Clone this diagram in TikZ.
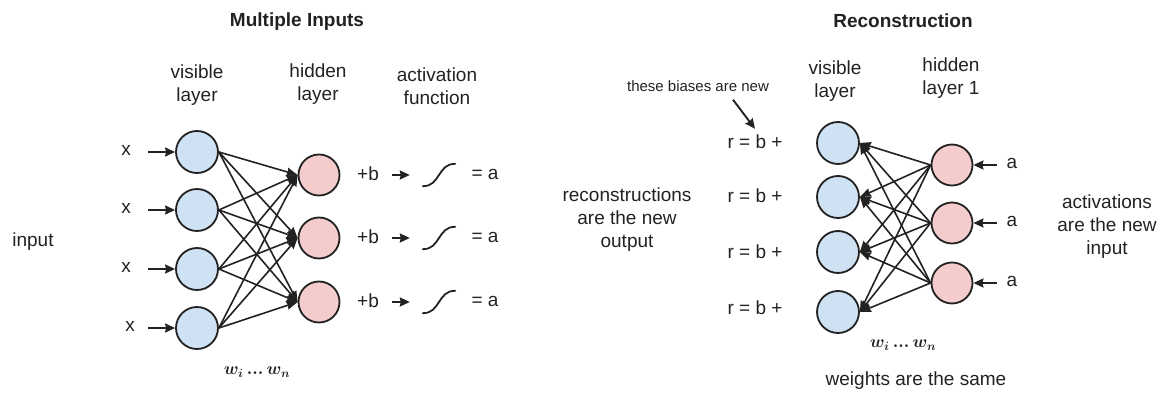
\documentclass[tikz,border=0pt]{standalone}
\usepackage{fontspec}
\setmainfont{Liberation Sans}
\usetikzlibrary{arrows.meta}
\definecolor{visfill}{HTML}{CFE2F3}
\definecolor{hidfill}{HTML}{F4CCCC}
\definecolor{ink}{HTML}{222222}

\begin{document}
\begin{tikzpicture}[x=1pt,y=-1pt,
  lbl/.style={text=ink, font=\fontsize{19}{23}\selectfont, align=center, inner sep=0pt},
  ttl/.style={text=ink, font=\fontsize{19}{23}\selectfont\bfseries, inner sep=0pt},
  note/.style={text=ink, font=\fontsize{15}{18}\selectfont, inner sep=0pt},
  wlab/.style={text=ink, font=\fontsize{17}{20}\selectfont\boldmath, inner sep=0pt},
  vis/.style={circle, draw=ink, line width=1.8pt, fill=visfill, minimum size=42pt, inner sep=0pt},
  hid/.style={circle, draw=ink, line width=1.8pt, fill=hidfill, minimum size=41pt, inner sep=0pt},
  sigbox/.style={minimum width=32pt, minimum height=22pt, inner sep=0pt},
  arr/.style={draw=ink, line width=1.9pt, -{Stealth[length=10pt,width=9pt,inset=1pt]}},
  wire/.style={draw=ink, line width=1.6pt, -{Stealth[length=11pt,width=8.5pt,inset=1pt]}},
]
\useasboundingbox (0,0) rectangle (1157,396);

% ---------- left: multiple inputs ----------
\node[ttl] (t1) at (297,22) {Multiple Inputs};
\node[lbl] (lv) at (197,85) {visible\\layer};
\node[lbl] (lh) at (318,84) {hidden\\layer};
\node[lbl] (la) at (437,86) {activation\\function};
\node[lbl] (inp) at (33,242) {input};

\foreach \i/\y in {1/152,2/210,3/269,4/328}
  \node[vis] (v\i) at (197,\y) {};
\foreach \i/\y in {1/175,2/238,3/302}
  \node[hid] (h\i) at (319,\y) {};

\foreach \i/\y/\xx in {1/152/126,2/210/126,3/269/126,4/328/130}{
  \node[lbl] (x\i) at (\xx,\y-2) {x};
  \draw[arr] (148,\y) -- (v\i.west);
}

\foreach \i in {1,...,4}
  \foreach \j in {1,2,3}
    \draw[wire] (v\i.east) -- (h\j.west);

\foreach \j/\y in {1/175,2/238,3/302}{
  \node[lbl] (pb\j) at (368,\y-1) {+b};
  \node[sigbox] (sg\j) at (439,\y) {};
  \draw[draw=ink, line width=1.8pt, line cap=round]
    (sg\j.south west) .. controls +(9,0) and +(-4,6) .. (sg\j.center)
    .. controls +(4,-6) and +(-9,0) .. (sg\j.north east);
  \node[lbl] (ea\j) at (485,\y-1) {= a};
  \draw[arr] ([xshift=13pt]pb\j.east |- sg\j.center) -- ([xshift=-13pt]sg\j.west);
}

\node[wlab] (w1) at (257,372) {$w_i\,{.}{.}{.}\,w_n$};

% ---------- right: reconstruction ----------
\node[ttl] (t2) at (903,21) {Reconstruction};
\node[lbl] (rv) at (835,81) {visible\\layer};
\node[lbl] (rh) at (951,78) {hidden\\layer 1};
\node[note] (bias) at (698,86) {these biases are new};
\node[lbl] (recon) at (627,220) {reconstructions\\are the new\\output};
\node[lbl] (actv) at (1107,227) {activations\\are the new\\input};

\foreach \i/\y in {1/143,2/197,3/252,4/312}
  \node[vis] (u\i) at (838,\y) {};
\foreach \i/\y in {1/142,2/196,3/252,4/308}
  \node[lbl] (r\i) at (755,\y) {r = b +};
\foreach \j/\y in {1/165,2/223,3/283}{
  \node[hid] (g\j) at (952,\y) {};
  \node[lbl] (a\j) at (1012,\y-2) {a};
  \draw[arr] (997,\y) -- (g\j.east);
}

\foreach \j in {1,2,3}
  \foreach \i in {1,...,4}
    \draw[wire] (g\j.west) -- (u\i.east);

\draw[arr] ([xshift=35pt,yshift=-8pt]bias.south) -- ([yshift=6pt]r1.north);

\node[wlab] (w2) at (903,345) {$w_i\,{.}{.}{.}\,w_n$};
\node[lbl] (same) at (916,381) {weights are the same};
\end{tikzpicture}
\end{document}
